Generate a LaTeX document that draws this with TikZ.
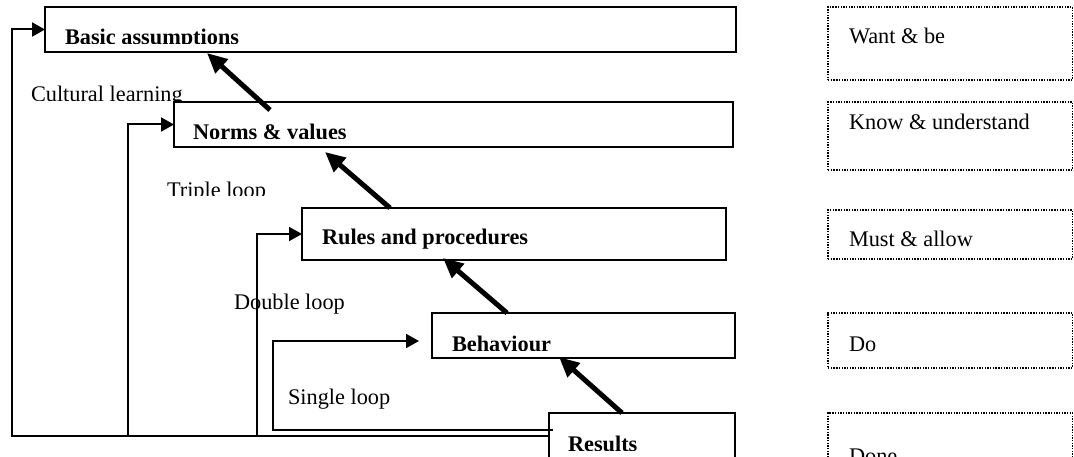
\documentclass[tikz,border=0pt]{standalone}
\usepackage{fontspec}
\setmainfont{Liberation Serif}
\usetikzlibrary{arrows.meta,calc}
\begin{document}
\begin{tikzpicture}[x=1pt,y=-1pt,
  lvl/.style={draw,line width=1.9pt,rectangle,inner sep=0pt,outer sep=0pt,anchor=north west},
  note/.style={draw,line width=1.4pt,dash pattern=on 1.4pt off 1.3pt,rectangle,inner sep=0pt,outer sep=0pt,anchor=north west},
  lbl/.style={anchor=base west,inner sep=0pt,outer sep=0pt,font=\fontsize{22.3}{26}\selectfont},
  blbl/.style={lbl,font=\fontsize{22.3}{26}\selectfont\bfseries},
  rise/.style={line width=5pt,-{Triangle[length=20pt,width=18pt]}},
  fb/.style={line width=2pt},
  fbarrow/.style={fb,-{Triangle[length=13pt,width=14pt]}}]
\useasboundingbox (0,0) rectangle (1074,457);
\clip (0,0) rectangle (1074,457);

% levels of learning
\node[lvl,minimum width=691pt,minimum height=45pt] (basic) at (45,7) {};
\node[lvl,minimum width=559pt,minimum height=45pt] (norms) at (174,102) {};
\node[lvl,minimum width=424pt,minimum height=52pt] (rules) at (302,208) {};
\node[lvl,minimum width=303pt,minimum height=45pt] (beh) at (432,313) {};
\node[lvl,minimum width=186pt,minimum height=70pt] (res) at (549,413) {};

% level captions, cut off by their text frames
\begin{scope}
  \clip (40,0) rectangle (740,43.3);
  \node[blbl] (tbasic) at (65,44.2) {Basic assumptions};
\end{scope}
\begin{scope}
  \clip (170,100) rectangle (740,138.3);
  \node[blbl] (tnorms) at (193,139.9) {Norms \& values};
\end{scope}
\node[blbl] (trules) at (322,245) {Rules and procedures};
\begin{scope}
  \clip (430,310) rectangle (740,350);
  \node[blbl] (tbeh) at (452,351) {Behaviour};
\end{scope}
\begin{scope}
  \clip (545,410) rectangle (740,450.7);
  \node[blbl] (tres) at (568,451.6) {Results};
\end{scope}

% loop captions
\begin{scope}
  \clip (20,70) rectangle (200,100.7);
  \node[lbl] (tcult) at (31,101.6) {Cultural learning};
\end{scope}
\begin{scope}
  \clip (150,170) rectangle (290,196);
  \node[lbl] (ttriple) at (167,197.6) {Triple loop};
\end{scope}
\node[lbl] (tdouble) at (234,309.6) {Double loop};
\node[lbl] (tsingle) at (288,404) {Single loop};

% right-hand column
\node[note,minimum width=244.5pt,minimum height=73pt] (want) at (828,7) {};
\node[note,minimum width=244.5pt,minimum height=68pt] (know) at (828,102) {};
\node[note,minimum width=244.5pt,minimum height=49pt] (must) at (828,210) {};
\node[note,minimum width=244.5pt,minimum height=55pt] (do) at (828,313) {};
\node[note,minimum width=244.5pt,minimum height=70pt] (done) at (828,413) {};
\node[lbl] (twant) at (849,44) {Want \& be};
\node[lbl] (tknow) at (849,129.6) {Know \& understand};
\node[lbl] (tmust) at (849,246.5) {Must \& allow};
\node[lbl] (tdo) at (849,351.5) {Do};
\node[lbl] (tdone) at (849,463) {Done};

% upward steps
\draw[rise] ($(norms.north west)+(96,8)$) -- ($(basic.south west)+(162,1)$);
\draw[rise] ($(rules.north west)+(88,0)$) -- ($(norms.south west)+(151,5)$);
\draw[rise] ($(beh.north west)+(75,0)$) -- ($(rules.south west)+(141,-2)$);
\draw[rise] ($(res.north west)+(73,0)$) -- ($(beh.south west)+(127,-1)$);

% feedback loops
\coordinate (outer) at (12,436);
\coordinate (triplefoot) at (128,436);
\coordinate (doublefoot) at (257,436);
\coordinate (singlefoot) at (273,430);
\coordinate (singletip) at ($(beh.north west)+(-13,28)$);
\draw[fbarrow] ($(res.north west)+(0,23)$) -- (outer) |- (basic.west);
\draw[fbarrow] (triplefoot) |- (norms.west);
\draw[fbarrow] (doublefoot) |- (rules.west);
\draw[fbarrow] ($(res.north west)+(4,17)$) -- (singlefoot) |- (singletip);
\end{tikzpicture}
\end{document}
